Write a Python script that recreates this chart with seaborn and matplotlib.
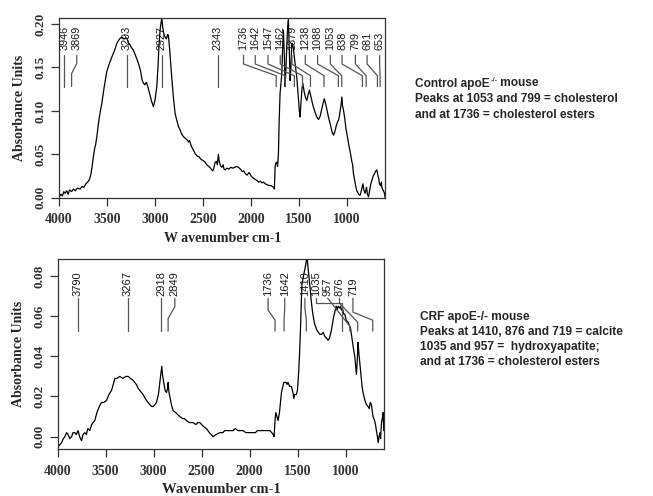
import matplotlib
matplotlib.use('Agg')
import matplotlib.pyplot as plt
import pandas as pd
import seaborn as sns

# Control apoE-/- spectrum (wavenumber, absorbance)
ctrl_wn = [4000, 3980, 3965, 3950, 3937, 3920, 3905, 3890, 3868, 3850, 3830, 3810, 3781, 3760,
           3740, 3720, 3694, 3680, 3666, 3655, 3642, 3630, 3617, 3604, 3590, 3575, 3555, 3530,
           3503, 3480, 3450, 3420, 3400, 3381, 3360, 3346, 3320, 3294, 3280, 3260, 3240, 3225,
           3200, 3173, 3150, 3135, 3121, 3105, 3090, 3075, 3060, 3051, 3035, 3017, 3000, 2981,
           2968, 2957, 2945, 2935, 2929, 2920, 2910, 2895, 2880, 2868, 2860, 2850, 2840, 2825,
           2810, 2790, 2770, 2755, 2738, 2720, 2700, 2680, 2660, 2652, 2640, 2620, 2600, 2582,
           2560, 2540, 2520, 2500, 2478, 2460, 2440, 2420, 2400, 2391, 2375, 2360, 2350, 2339,
           2330, 2318, 2303, 2290, 2280, 2269, 2251, 2230, 2210, 2190, 2170, 2150, 2130, 2110,
           2090, 2075, 2060, 2040, 2020, 2008, 1990, 1970, 1955, 1938, 1920, 1900, 1885, 1869,
           1850, 1830, 1810, 1790, 1765, 1755, 1748, 1740, 1730, 1722, 1713, 1705, 1696, 1686,
           1678, 1670, 1661, 1652, 1643, 1635, 1626, 1617, 1609, 1600, 1591, 1583, 1574, 1565,
           1557, 1540, 1522, 1505, 1495, 1487, 1478, 1468, 1459, 1445, 1430, 1417, 1405, 1390,
           1378, 1365, 1350, 1330, 1313, 1295, 1278, 1260, 1245, 1235, 1220, 1207, 1190, 1173,
           1155, 1139, 1125, 1110, 1095, 1087, 1078, 1070, 1060, 1052, 1045, 1035, 1020, 1010,
           1000, 985, 975, 965, 950, 940, 931, 915, 905, 896, 880, 870, 861, 845, 833, 820, 809,
           795, 785, 774, 760, 750, 739, 725, 710, 698, 687, 675, 667, 660, 650, 640, 635, 620,
           610, 600]
ctrl_abs = [0.001, 0.004, 0.002, 0.007, 0.005, 0.008, 0.004, 0.009, 0.007, 0.010, 0.008, 0.011,
            0.010, 0.013, 0.012, 0.016, 0.019, 0.022, 0.028, 0.036, 0.047, 0.056, 0.062, 0.072,
            0.085, 0.096, 0.108, 0.127, 0.145, 0.153, 0.162, 0.170, 0.177, 0.181, 0.184, 0.185,
            0.183, 0.184, 0.179, 0.176, 0.172, 0.170, 0.163, 0.155, 0.146, 0.136, 0.132, 0.130,
            0.133, 0.128, 0.122, 0.118, 0.111, 0.105, 0.112, 0.128, 0.152, 0.178, 0.195, 0.203,
            0.207, 0.197, 0.190, 0.185, 0.183, 0.188, 0.187, 0.175, 0.160, 0.139, 0.118, 0.097,
            0.088, 0.082, 0.078, 0.073, 0.070, 0.068, 0.066, 0.064, 0.066, 0.059, 0.055, 0.051,
            0.048, 0.047, 0.044, 0.043, 0.041, 0.038, 0.036, 0.034, 0.031, 0.032, 0.040, 0.042,
            0.038, 0.050, 0.042, 0.037, 0.035, 0.038, 0.033, 0.032, 0.034, 0.033, 0.035, 0.034,
            0.035, 0.036, 0.035, 0.033, 0.030, 0.031, 0.028, 0.026, 0.029, 0.027, 0.024, 0.022,
            0.021, 0.020, 0.018, 0.019, 0.017, 0.018, 0.016, 0.015, 0.014, 0.014, 0.012, 0.010,
            0.035, 0.040, 0.041, 0.036, 0.051, 0.090, 0.120, 0.133, 0.143, 0.170, 0.193, 0.165,
            0.128, 0.148, 0.174, 0.196, 0.205, 0.170, 0.135, 0.150, 0.178, 0.176, 0.172, 0.155,
            0.139, 0.115, 0.100, 0.093, 0.110, 0.125, 0.132, 0.122, 0.115, 0.112, 0.118, 0.124,
            0.118, 0.112, 0.105, 0.098, 0.093, 0.090, 0.094, 0.103, 0.110, 0.114, 0.108, 0.101,
            0.092, 0.085, 0.076, 0.072, 0.076, 0.083, 0.088, 0.089, 0.094, 0.100, 0.107, 0.116,
            0.106, 0.101, 0.090, 0.080, 0.074, 0.064, 0.058, 0.053, 0.043, 0.038, 0.028, 0.018,
            0.012, 0.008, 0.005, 0.003, 0.003, 0.010, 0.016, 0.008, 0.005, 0.012, 0.004, 0.001,
            0.010, 0.016, 0.020, 0.025, 0.028, 0.031, 0.032, 0.025, 0.022, 0.016, 0.014, 0.018,
            0.012, 0.008, 0.006, 0.000]

# CRF apoE-/- spectrum
crf_wn = [4000, 3994, 3975, 3958, 3940, 3924, 3905, 3890, 3872, 3854, 3838, 3820, 3805, 3786,
          3770, 3750, 3735, 3716, 3700, 3685, 3664, 3645, 3630, 3612, 3590, 3565, 3542, 3520,
          3490, 3465, 3438, 3420, 3404, 3380, 3352, 3320, 3290, 3265, 3240, 3213, 3180, 3160,
          3144, 3110, 3074, 3040, 3020, 3005, 2985, 2970, 2950, 2935, 2925, 2915, 2905, 2894,
          2880, 2866, 2855, 2849, 2840, 2831, 2815, 2797, 2770, 2750, 2727, 2700, 2680, 2658,
          2630, 2610, 2589, 2560, 2540, 2519, 2500, 2480, 2450, 2420, 2400, 2381, 2350, 2311,
          2280, 2259, 2230, 2200, 2173, 2150, 2120, 2090, 2068, 2040, 2010, 1990, 1965, 1940,
          1920, 1900, 1877, 1850, 1820, 1791, 1770, 1755, 1746, 1736, 1728, 1716, 1704, 1690,
          1680, 1669, 1655, 1645, 1635, 1620, 1610, 1600, 1585, 1565, 1550, 1540, 1531, 1515,
          1503, 1490, 1479, 1470, 1462, 1455, 1440, 1427, 1415, 1403, 1390, 1375, 1360, 1345,
          1335, 1323, 1300, 1285, 1271, 1250, 1235, 1219, 1200, 1184, 1170, 1160, 1149, 1135,
          1125, 1114, 1100, 1090, 1080, 1065, 1055, 1045, 1035, 1020, 1010, 995, 976, 960, 950,
          941, 930, 920, 906, 897, 889, 880, 872, 864, 854, 840, 830, 820, 800, 785, 768, 755,
          745, 733, 725, 716, 700, 690, 681, 670, 662, 653, 645, 637, 628, 620, 611, 605, 600]
crf_abs = [-0.006, -0.005, -0.004, -0.003, -0.001, 0.000, 0.002, 0.001, -0.001, 0.000, 0.002,
           0.002, 0.001, 0.003, 0.000, -0.002, 0.001, 0.002, 0.001, 0.004, 0.003, 0.006, 0.007,
           0.008, 0.012, 0.015, 0.017, 0.017, 0.018, 0.021, 0.023, 0.026, 0.029, 0.029, 0.030,
           0.029, 0.030, 0.030, 0.029, 0.028, 0.026, 0.024, 0.023, 0.021, 0.018, 0.016, 0.015,
           0.015, 0.016, 0.017, 0.021, 0.027, 0.031, 0.035, 0.030, 0.027, 0.023, 0.022, 0.024,
           0.027, 0.022, 0.020, 0.016, 0.013, 0.012, 0.011, 0.010, 0.009, 0.009, 0.008, 0.007,
           0.007, 0.007, 0.006, 0.007, 0.007, 0.006, 0.005, 0.004, 0.002, 0.001, 0.000, 0.001,
           0.002, 0.002, 0.003, 0.003, 0.003, 0.003, 0.004, 0.003, 0.003, 0.003, 0.002, 0.002,
           0.002, 0.002, 0.002, 0.003, 0.003, 0.003, 0.003, 0.003, 0.003, 0.002, 0.001, 0.000,
           0.008, 0.012, 0.010, 0.008, 0.012, 0.017, 0.022, 0.025, 0.027, 0.027, 0.027, 0.026,
           0.027, 0.025, 0.025, 0.022, 0.019, 0.021, 0.021, 0.023, 0.032, 0.043, 0.055, 0.068,
           0.076, 0.080, 0.083, 0.086, 0.090, 0.083, 0.076, 0.068, 0.062, 0.059, 0.056, 0.053,
           0.052, 0.051, 0.051, 0.052, 0.050, 0.049, 0.048, 0.049, 0.051, 0.053, 0.057, 0.060,
           0.062, 0.065, 0.063, 0.065, 0.064, 0.065, 0.063, 0.064, 0.061, 0.061, 0.058, 0.057,
           0.055, 0.054, 0.051, 0.047, 0.044, 0.040, 0.035, 0.031, 0.038, 0.047, 0.042, 0.037,
           0.030, 0.025, 0.022, 0.018, 0.016, 0.015, 0.014, 0.017, 0.016, 0.013, 0.010, 0.008,
           0.006, 0.003, 0.000, -0.003, 0.000, 0.002, -0.001, 0.007, 0.009, 0.012, 0.003, 0.005]

# peak labels
ctrl_peaks = [3946, 3869, 3293, 2927, 2343, 1736, 1642, 1547, 1462, 1379, 1238, 1088, 1053,
              838, 799, 681, 653]
crf_peaks = [3790, 3267, 2918, 2849, 1736, 1642, 1410, 1035, 957, 876, 719]

ctrl_notes = ['Control apoE', 'Peaks at 1053 and 799 = cholesterol',
              'and at 1736 = cholesterol esters']
crf_notes = ['CRF apoE-/- mouse', 'Peaks at 1410, 876 and 719 = calcite',
             '1035 and 957 =  hydroxyapatite;', 'and at 1736 = cholesterol esters']

# where the label text sits (spread out so they do not overlap)
ctrl_label_x = [3946, 3815, 3293, 2927, 2343, 2077, 1955, 1822, 1694, 1572, 1433, 1305, 1172,
                1050, 911, 789, 658]
crf_label_x = [3790, 3267, 2918, 2779, 1808, 1635, 1425, 1305, 1188, 1065, 925]

sns.set_style('ticks')
plt.rcParams['font.family'] = ['Liberation Serif', 'DejaVu Serif']
plt.rcParams['axes.edgecolor'] = '#333333'
plt.rcParams['xtick.color'] = '#333333'
plt.rcParams['ytick.color'] = '#333333'

SERIF = dict(family='Liberation Serif', weight='bold')
SANS = ['Liberation Sans', 'DejaVu Sans']


def draw_peaks(ax, peaks, label_x, y_text, y_top, b1, b2, y_bot, fs):
    for i, (p, lx) in enumerate(zip(peaks, label_x)):
        ax.text(lx, y_text, str(p), rotation=90, ha='center', va='bottom',
                fontsize=fs, family=SANS, color='#1a1a1a')
        ax.plot([lx, lx, p, p], [y_top, b1[i], b2[i], y_bot], color='#555555', lw=0.9)


def style_axes(ax, ylim, yticks):
    xt = [4000, 3500, 3000, 2500, 2000, 1500, 1000]
    ax.set_xlim(4000, 598)
    ax.set_ylim(*ylim)
    ax.set_xticks(xt)
    ax.set_yticks(yticks)
    ax.set_yticklabels(['%.2f' % v for v in yticks], rotation=90, va='center', **SERIF,
                       fontsize=9.5)
    ax.set_xticklabels([str(v) for v in xt], **SERIF, fontsize=10)
    ax.tick_params(direction='out', length=6, width=0.9, pad=3)
    ax.tick_params(axis='x', pad=5)
    for s in ax.spines.values():
        s.set_linewidth(0.9)
    ax.set_ylabel('Absorbance Units', fontsize=10, labelpad=6, **SERIF)


fig = plt.figure(figsize=(6.53, 4.96), dpi=100)
ax1 = fig.add_axes([0.0904, 0.6014, 0.4998, 0.3623])
ax2 = fig.add_axes([0.0881, 0.0942, 0.5005, 0.3837])

df_ctrl = pd.DataFrame({'wn': ctrl_wn, 'abs': ctrl_abs})
df_crf = pd.DataFrame({'wn': crf_wn, 'abs': crf_abs})

sns.lineplot(data=df_ctrl, x='wn', y='abs', ax=ax1, color='black', lw=0.9,
             estimator=None, sort=False)
sns.lineplot(data=df_crf, x='wn', y='abs', ax=ax2, color='black', lw=0.9,
             estimator=None, sort=False)

style_axes(ax1, (0, 0.207), [0.00, 0.05, 0.10, 0.15, 0.20])
style_axes(ax2, (-0.0063, 0.0885), [0.00, 0.02, 0.04, 0.06, 0.08])
ax1.set_xlabel('W avenumber cm-1', fontsize=10, labelpad=4, **SERIF)
ax2.set_xlabel('Wavenumber cm-1', fontsize=10.5, labelpad=4, **SERIF)

# bend heights of the leader lines
n1 = len(ctrl_peaks)
b1_top = [0.154] * n1
b2_top = [0.1405] * n1
b1_top[1], b2_top[1] = 0.1547, 0.143
draw_peaks(ax1, ctrl_peaks, ctrl_label_x, 0.1705, 0.164, b1_top, b2_top, 0.128, 7.8)

b1_bot = [0.064, 0.064, 0.064, 0.0647, 0.063, 0.064, 0.064, 0.0665, 0.0689, 0.0665, 0.062]
b2_bot = [0.058, 0.058, 0.058, 0.0589, 0.058, 0.058, 0.058, 0.0665, 0.055, 0.057, 0.058]
draw_peaks(ax2, crf_peaks, crf_label_x, 0.0700, 0.0689, b1_bot, b2_bot, 0.0526, 8.0)

# notes on the right
note_kw = dict(fontsize=8.6, weight='bold', family=SANS, va='center', ha='left')
renderer = fig.canvas.get_renderer()
W = fig.bbox.width
t = fig.text(415 / 653, 1 - 83.5 / 496, ctrl_notes[0], **note_kw)
x_sup = t.get_window_extent(renderer=renderer).x1 / W
ts = fig.text(x_sup + 0.001, 1 - 80 / 496, '-/-', fontsize=5.5, family=SANS, va='center',
              ha='left')
x_rest = ts.get_window_extent(renderer=renderer).x1 / W
fig.text(x_rest, 1 - 83.5 / 496, ' mouse', **note_kw)
for k, line in enumerate(ctrl_notes[1:]):
    fig.text(415 / 653, 1 - (99.5 + 15.8 * k) / 496, line, **note_kw)
for k, line in enumerate(crf_notes):
    fig.text(420 / 653, 1 - (316.7 + 15 * k) / 496, line, **note_kw)

fig.savefig('out.png', dpi=100)
